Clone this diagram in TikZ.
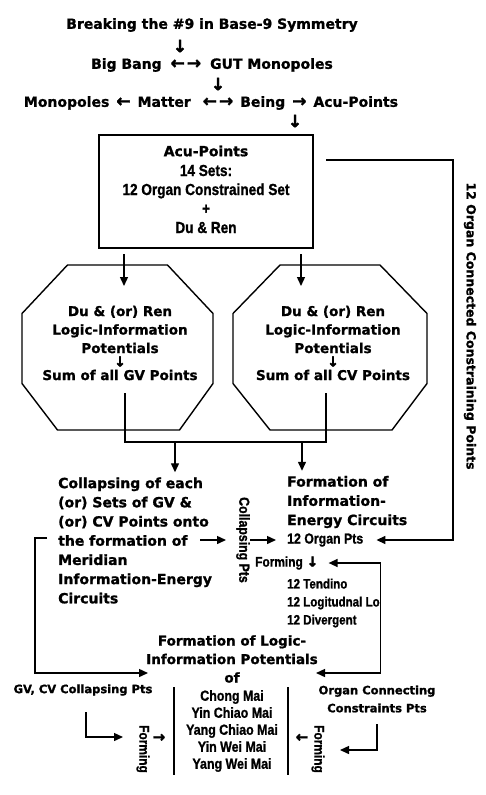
\documentclass[tikz,border=0pt]{standalone}
\usepackage{graphicx}
\usepackage{fontspec}
\setmainfont{DejaVu Sans}[BoldFeatures={FakeBold=1.2}]
\newfontfamily\narrowfont{Liberation Sans}[BoldFeatures={FakeBold=1.2}]
\newfontfamily\glyphfont{DejaVu Sans}[BoldFeatures={FakeBold=2}]
\newcommand\arrglyph[2][17]{{\glyphfont\bfseries\fontsize{#1}{#1}\selectfont #2}}
\newcommand\cond[1]{\scalebox{0.85}[1]{#1}}
\usetikzlibrary{arrows.meta}

\tikzset{
  conn/.style={line width=1.4pt},
  arr/.style={conn,-{Triangle[width=8pt,length=9pt]}},
  headtxt/.style={font=\bfseries\fontsize{14}{19}\selectfont,inner sep=0pt},
  octtxt/.style={font=\bfseries\fontsize{13.5}{18.5}\selectfont,align=center,inner sep=0pt},
  mainlbl/.style={font=\bfseries\fontsize{14}{19.2}\selectfont,align=left,inner sep=0pt},
  labtxt/.style={font=\bfseries\fontsize{11.5}{18}\selectfont,inner sep=0pt},
  narrowlbl/.style={font=\narrowfont\bfseries\fontsize{14}{17.5}\selectfont,inner sep=0pt},
}

\begin{document}
\begin{tikzpicture}[x=1pt,y=-1pt]
\useasboundingbox (0,0) rectangle (485,795);
% top chain
\node[headtxt] (brk) at (212,25) {Breaking the \#9 in Base-9 Symmetry};
\node[headtxt] (dn1) at (180,46) {\arrglyph{↓}};
\node[headtxt] (bang) at (212,65) {Big Bang\hspace{9pt}\arrglyph{←}\kern2pt\arrglyph{→}\hspace{9pt}GUT Monopoles};
\node[headtxt] (dn2) at (218,84) {\arrglyph{↓}};
\node[headtxt] (being) at (211,103) {Monopoles\hspace{7pt}\arrglyph{←}\hspace{7pt}Matter\hspace{12pt}\arrglyph{←}\kern2pt\arrglyph{→}\hspace{7pt}Being\hspace{7pt}\arrglyph{→}\hspace{7pt}Acu-Points};
\node[headtxt] (dn3) at (295,121) {\arrglyph{↓}};

% acu-points box
\node[draw,conn,minimum width=214pt,minimum height=113pt,inner sep=0pt] (acubox) at (206,191.5) {};
\node[headtxt] (acutitle) at (206,151) {Acu-Points};
\node[narrowlbl,align=center,font=\narrowfont\bfseries\fontsize{16}{19}\selectfont] (acusets) at (206,199) {\cond{14 Sets:}\\\cond{12 Organ Constrained Set}\\\cond{+}\\\cond{Du \& Ren}};

% octagons
\begin{scope}[shift={(117.5,347.5)}]
  \draw[conn] (-50,-82.5) -- (50,-82.5) -- (95.5,-34) -- (95.5,36) -- (62,82.5)
    -- (-60,82.5) -- (-95.5,36) -- (-95.5,-34) -- cycle;
\end{scope}
\begin{scope}[shift={(330,347.5)}]
  \draw[conn] (-50,-82.5) -- (50,-82.5) -- (97,-34) -- (97,36) -- (62,82.5)
    -- (-60,82.5) -- (-97,36) -- (-97,-34) -- cycle;
\end{scope}
\node[octtxt] (gvpot) at (120,343) {Du \& (or) Ren\\Logic-Information\\Potentials\\[-5pt]\arrglyph[14]{↓}\\[-5pt]Sum of all GV Points};
\node[octtxt] (cvpot) at (333,343) {Du \& (or) Ren\\Logic-Information\\Potentials\\[-5pt]\arrglyph[14]{↓}\\[-5pt]Sum of all CV Points};

\coordinate (acuBL) at (124,254);
\coordinate (acuBR) at (301,254);
\coordinate (gvIn) at (124,286);
\coordinate (cvIn) at (301,286);
\draw[arr] (acuBL) -- (gvIn);
\draw[arr] (acuBR) -- (cvIn);

% join of the two sums
\coordinate (gvOut) at (125,393);
\coordinate (cvOut) at (326,393);
\coordinate (jL) at (175,442);
\coordinate (jR) at (302,442);
\draw[conn] (gvOut) -- ++(0,49) -| (cvOut);

% middle block
\node[mainlbl,anchor=west] (collapse) at (58,540.5) {Collapsing of each\\(or) Sets of GV \&\\(or) CV Points onto\\the formation of\\Meridian\\Information-Energy\\Circuits};
\node[mainlbl,anchor=west] (formcirc) at (287,502) {Formation of\\Information-\\Energy Circuits};
\node[narrowlbl,anchor=west,font=\narrowfont\bfseries\fontsize{14.5}{17}\selectfont] (organpts) at (287,540) {\cond{12 Organ Pts}};
\node[narrowlbl,anchor=west] (forming) at (255,563) {\cond{Forming} \arrglyph[14]{↓}};
\node[narrowlbl,anchor=west,align=left,font=\narrowfont\bfseries\fontsize{13.6}{18}\selectfont] (meridians) at (287,603) {\cond{12 Tendino}\\\cond{12 Logitudnal Lo}\\\cond{12 Divergent}};
\node[narrowlbl,rotate=-90,font=\narrowfont\bfseries\fontsize{14.5}{17}\selectfont] (colpts) at (243,540) {\cond{Collapsing Pts}};
\node[rotate=-90,font=\bfseries\fontsize{12.5}{15}\selectfont,inner sep=0pt] (orgconst) at (470,326) {12 Organ Connected Constraining Points};

\draw[arr,shorten >=5pt] (jL) -- (jL |- collapse.north);
\draw[arr,shorten >=5pt] (jR) -- (jR |- formcirc.north);

\coordinate (colA) at (200,540);
\coordinate (colB) at (226,540);
\coordinate (colC) at (250,540);
\coordinate (colD) at (276,540);
\draw[arr] (colA) -- (colB);
\draw[arr] (colC) -- (colD);

% right return loop
\coordinate (acuR) at (326,160);
\draw[arr] (acuR) -- ++(127,0) |- ([xshift=13pt]organpts.east);

% lower block
\node[octtxt] (lpot) at (232,659) {Formation of Logic-\\Information Potentials\\of};
\node[labtxt] (gvcol) at (83,690) {GV, CV Collapsing Pts};
\node[labtxt,align=center] (orgcon) at (377,699) {Organ Connecting\\Constraints Pts};
\node[narrowlbl,align=center,font=\narrowfont\bfseries\fontsize{14.6}{17}\selectfont] (mai) at (232,731) {\cond{Chong Mai}\\\cond{Yin Chiao Mai}\\\cond{Yang Chiao Mai}\\\cond{Yin Wei Mai}\\\cond{Yang Wei Mai}};
\draw[conn] (174,687) -- (174,775);
\draw[conn] (288,687) -- (288,775);

\coordinate (colL) at (47,538);
\coordinate (lpotL) at (148,673);
\draw[arr] (colL) -- ++(-12,0) |- (lpotL);

\coordinate (lpotR) at (316,673);
\draw[conn,{Triangle[width=8pt,length=9pt]}-{Triangle[width=8pt,length=9pt]}]
  ([xshift=10pt]forming.east) -- ++(52,0) |- (lpotR);

% forming arrows at the bottom
\node[narrowlbl,rotate=-90] (formingL) at (143,749) {\cond{Forming}};
\node[narrowlbl,rotate=-90] (formingR) at (318,749) {\cond{Forming}};
\node (arrL) at (159,738) {\arrglyph[15]{→}};
\node (arrR) at (302,738) {\arrglyph[15]{←}};
\coordinate (gvDown) at (86,712);
\coordinate (gvTip) at (123,737);
\draw[arr] (gvDown) |- (gvTip);
\coordinate (orgDown) at (377,724);
\coordinate (orgTip) at (340,750);
\draw[arr] (orgDown) |- (orgTip);
\end{tikzpicture}
\end{document}
